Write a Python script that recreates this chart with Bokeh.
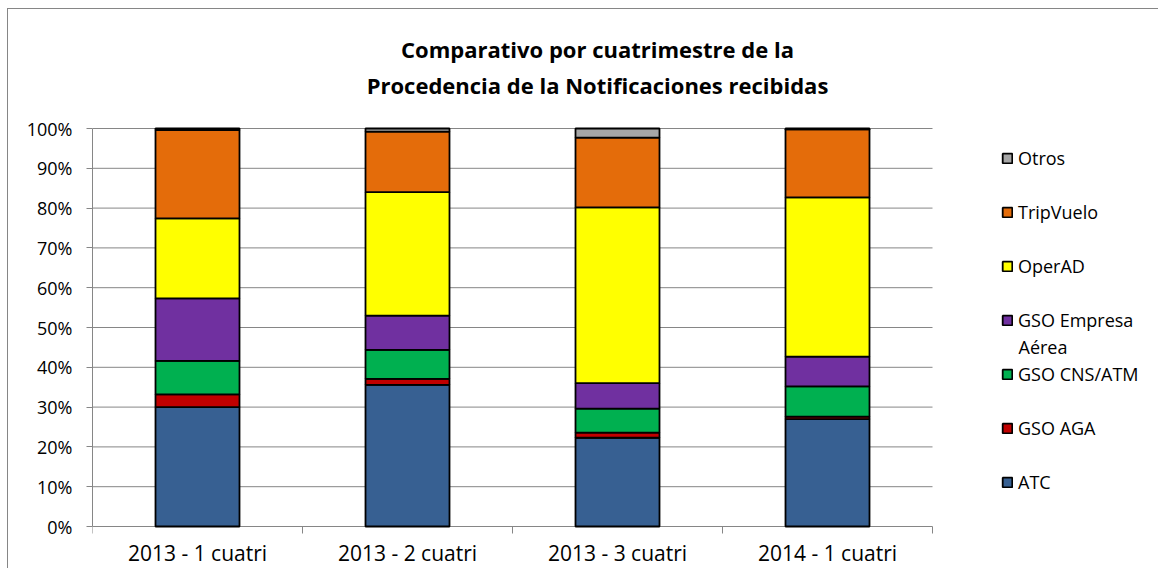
from bokeh.plotting import figure
from bokeh.models import (ColumnDataSource, Range1d, FixedTicker, PrintfTickFormatter,
                          Legend, LegendItem, Label)
from bokeh.core.properties import value
from bokeh.embed import file_html
from bokeh.resources import INLINE

categories = ["2013 - 1 cuatri", "2013 - 2 cuatri", "2013 - 3 cuatri", "2014 - 1 cuatri"]
ATC = [30.0, 35.6, 22.3, 27.0]
GSO_AGA = [3.2, 1.5, 1.3, 0.6]
GSO_CNS_ATM = [8.4, 7.3, 6.0, 7.6]
GSO_Empresa = [15.7, 8.6, 6.4, 7.5]
OperAD = [20.1, 31.0, 44.2, 40.0]
TripVuelo = [22.2, 15.2, 17.5, 17.1]
Otros = [0.4, 0.8, 2.3, 0.2]

series_names = ["ATC", "GSO AGA", "GSO CNS/ATM", "GSO Empresa Aérea", "OperAD", "TripVuelo", "Otros"]
legend_labels = ["ATC", "GSO AGA", "GSO CNS/ATM", "GSO Empresa", "OperAD", "TripVuelo", "Otros"]
legend_wrap = "Aérea"
colors = ["#376092", "#C00000", "#00B050", "#7030A0", "#FFFF00", "#E46C0A", "#A6A6A6"]
y_ticks = [0, 10, 20, 30, 40, 50, 60, 70, 80, 90, 100]
title_lines = ["Comparativo por cuatrimestre de la", "Procedencia de la Notificaciones recibidas"]

FONT = "Open Sans"
GRAY = "#868686"

# layout geometry (pixels)
W, H = 1158, 568
LEFT = 92
ZERO_PY = 526            # screen y of the 0% line
CAT_PX = 210.0           # width of one category on screen
PCT_PX = 3.98            # pixels per percentage point
FRAME_W = W - LEFT

def dx(px):  # screen x -> data x
    return (px - LEFT) / CAT_PX

def dy(py):  # screen y -> data y
    return (ZERO_PY - py) / PCT_PX

n = len(categories)
xpos = [i + 0.5 for i in range(n)]
data = {"x": xpos}
for name, vals in zip(series_names, [ATC, GSO_AGA, GSO_CNS_ATM, GSO_Empresa, OperAD, TripVuelo, Otros]):
    data[name] = vals
source = ColumnDataSource(data)

p = figure(width=W, height=H, output_backend="svg", toolbar_location=None, title=None,
           x_range=Range1d(0, FRAME_W / CAT_PX), y_range=Range1d(dy(H), dy(0)),
           min_border_left=LEFT, min_border_right=0, min_border_top=0, min_border_bottom=0)
p.styles = {"background": ("linear-gradient(#868686,#868686) 7px 8px / 1px 100% no-repeat, "
                           "linear-gradient(#868686,#868686) 7px 8px / 100% 1px no-repeat, white")}
p.outline_line_color = None
p.background_fill_color = None
p.border_fill_color = None
p.xgrid.grid_line_color = None
p.ygrid.grid_line_color = None
p.xaxis.visible = False

# horizontal gridlines (the 0% one doubles as the category axis line)
p.segment(x0=[0] * len(y_ticks), x1=[n] * len(y_ticks), y0=y_ticks, y1=y_ticks,
          line_color=GRAY, line_width=1)
# category boundary tick marks
bounds_x = list(range(n + 1))
p.segment(x0=bounds_x, x1=bounds_x, y0=[0] * (n + 1), y1=[dy(ZERO_PY + 7)] * (n + 1),
          line_color=GRAY, line_width=1)

renderers = p.vbar_stack(series_names, x="x", width=0.4, source=source, color=colors,
                         line_color="black", line_width=1.8)

# category labels
p.text(x=xpos, y=[dy(552)] * n, text=categories, text_font=value(FONT),
       text_font_size="21px", text_align="center", text_baseline="middle", text_color="black")

# y axis
p.yaxis.bounds = (0, 100)
p.yaxis.ticker = FixedTicker(ticks=y_ticks)
p.yaxis.formatter = PrintfTickFormatter(format="%d%%")
p.yaxis.axis_line_color = GRAY
p.yaxis.major_tick_line_color = GRAY
p.yaxis.major_tick_out = 6
p.yaxis.major_tick_in = 0
p.yaxis.minor_tick_line_color = None
p.yaxis.major_label_standoff = 14
p.yaxis.major_label_text_font = FONT
p.yaxis.major_label_text_font_size = "18px"
p.yaxis.major_label_text_color = "black"

# legend (top-down order like the original)
items = [LegendItem(label=lab, renderers=[r]) for lab, r in zip(legend_labels, renderers)][::-1]
legend = Legend(items=items, location=(1001 - LEFT, 74), orientation="vertical",
                glyph_width=12, glyph_height=12, label_height=25, spacing=29,
                padding=0, margin=0, label_standoff=5,
                label_text_font=FONT, label_text_font_size="18px", label_text_color="black",
                background_fill_alpha=0, border_line_alpha=0)
p.add_layout(legend, "center")
p.add_layout(Label(x=dx(1018), y=dy(346), text=legend_wrap, text_align="left",
                   text_baseline="middle", text_font=FONT, text_font_size="18px",
                   text_color="black"))

# title
for txt, py in zip(title_lines, [48, 84]):
    p.add_layout(Label(x=dx(597), y=dy(py), text=txt,
                       text_align="center", text_baseline="middle", text_font=FONT,
                       text_font_size="22px", text_font_style="bold", text_color="black"))

open("out.html", "w").write(file_html(p, INLINE))
